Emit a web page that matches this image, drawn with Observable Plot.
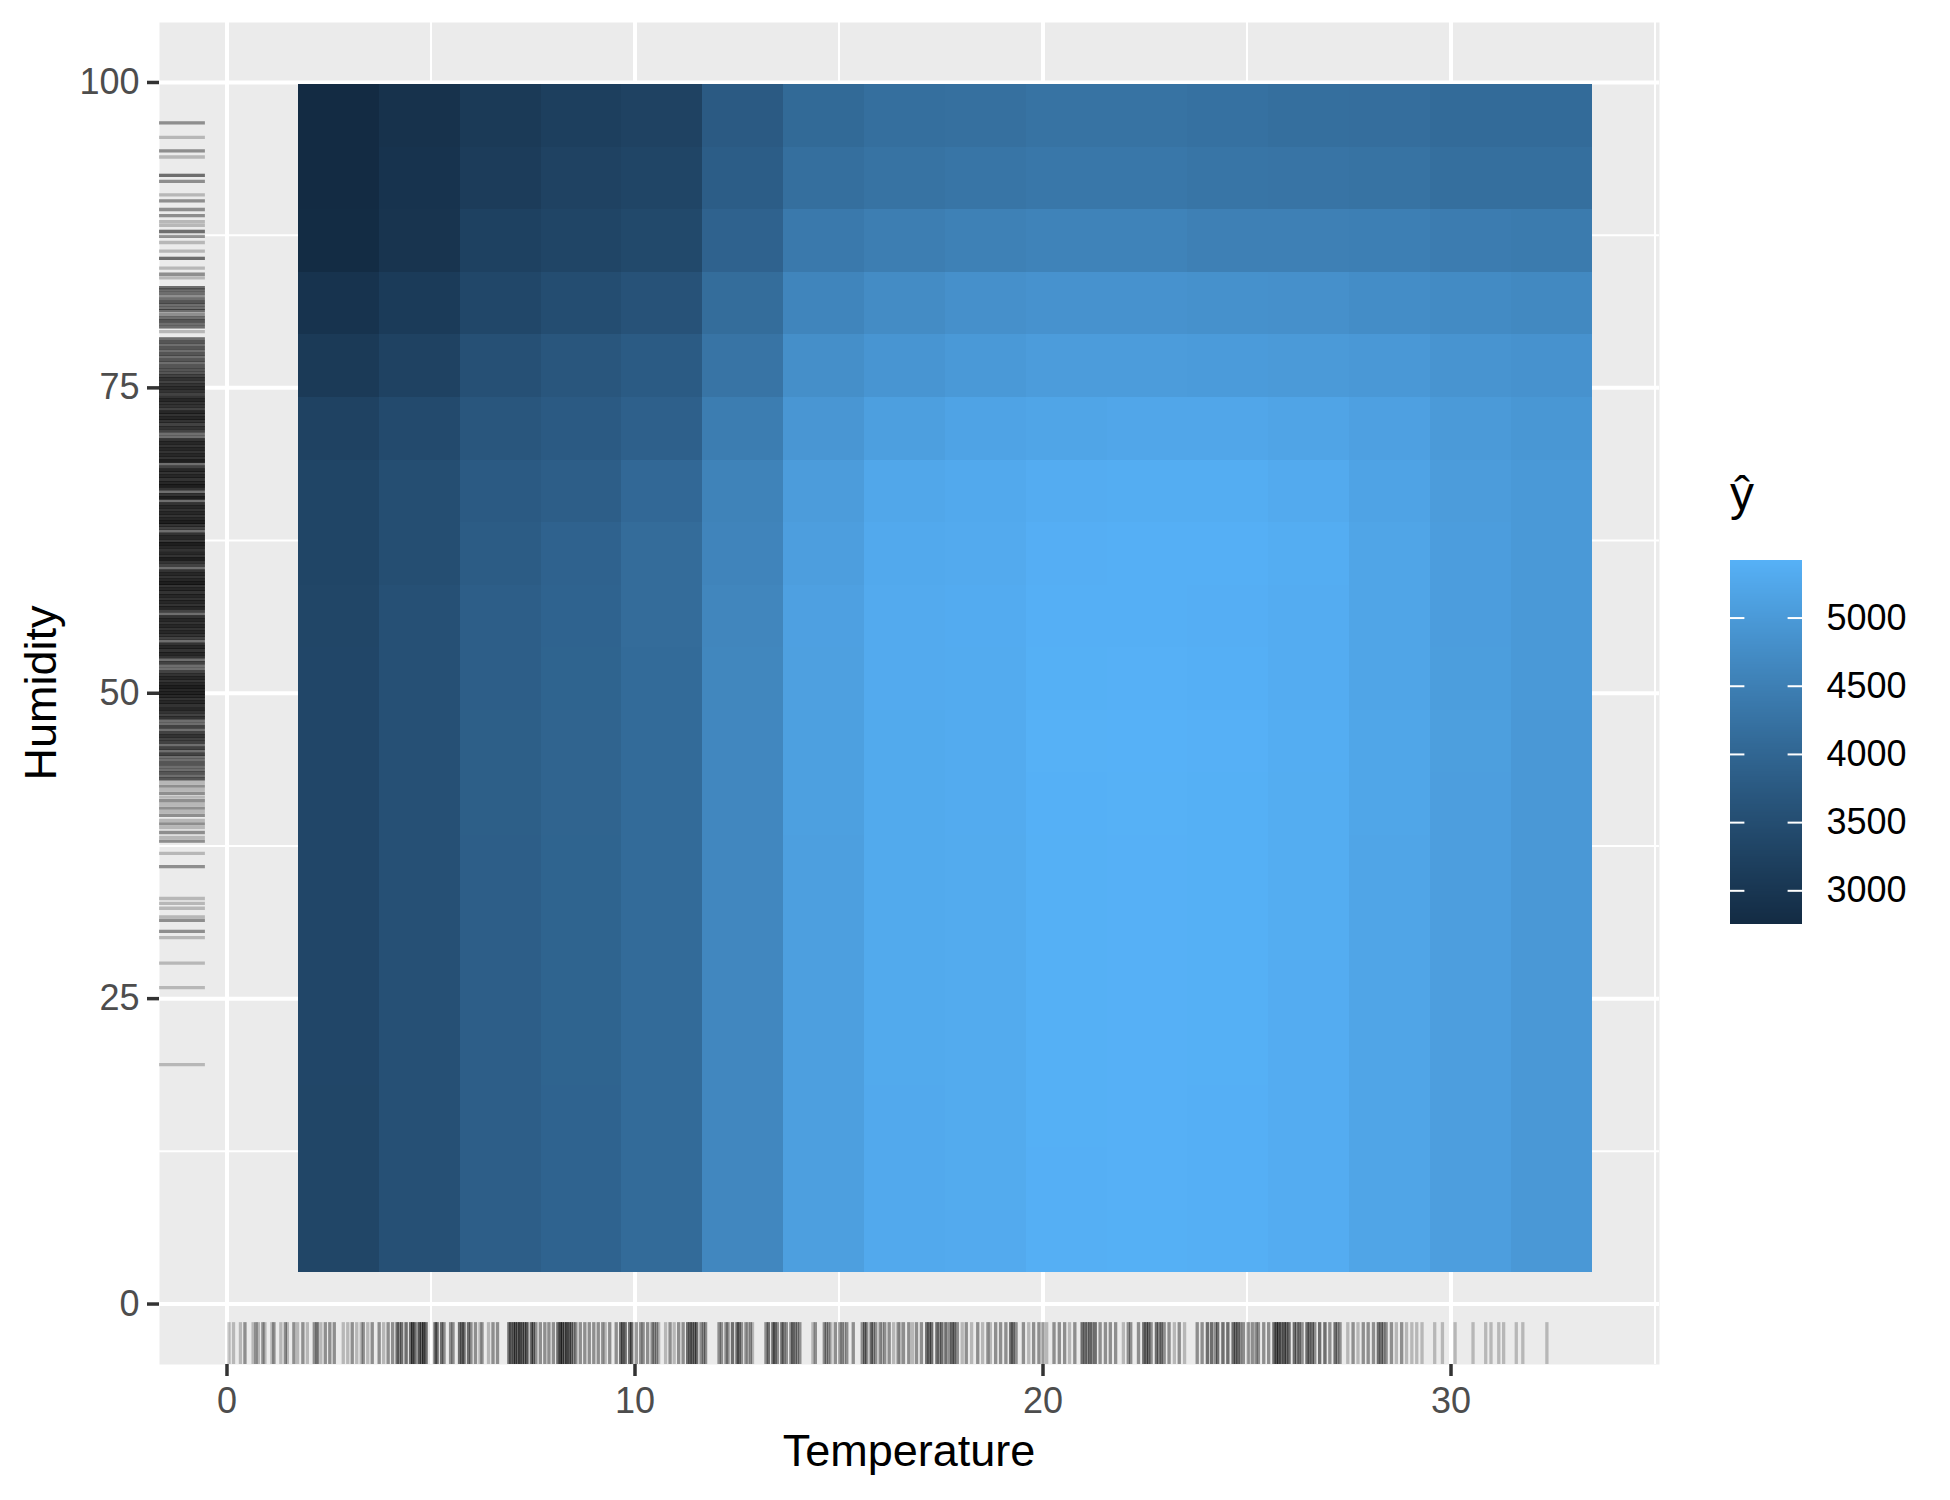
<!DOCTYPE html>
<html><head><meta charset="utf-8">
<script src="https://cdn.jsdelivr.net/npm/d3@7"></script>
<script src="https://cdn.jsdelivr.net/npm/@observablehq/plot@0.6"></script>
<style>
html,body{margin:0;padding:0;background:#fff;}
#wrap{position:relative;width:1950px;height:1500px;font-family:"Liberation Sans",Arial,Helvetica,sans-serif;overflow:hidden;}
.lbl{position:absolute;color:#000;white-space:nowrap;line-height:1;}
</style></head><body><div id="wrap"></div>
<script>
// grid centres of the partial dependence tiles
const tempGrid = [2.75, 4.73, 6.71, 8.69, 10.67, 12.66, 14.64, 16.62, 18.60, 20.58, 22.56, 24.54, 26.52, 28.51, 30.49, 32.47];
const humGrid = [5.12, 10.24, 15.35, 20.47, 25.59, 30.71, 35.83, 40.94, 46.06, 51.18, 56.30, 61.42, 66.53, 71.65, 76.77, 81.89, 87.01, 92.13, 97.25];
// predicted value y-hat, one row per humidity grid value (bottom to top), one entry per temperature
const yhat = [
  [3348, 3562, 3852, 3954, 4096, 4645, 5099, 5284, 5302, 5385, 5400, 5385, 5335, 5210, 5080, 4969],
  [3348, 3562, 3852, 3954, 4096, 4645, 5099, 5284, 5305, 5390, 5405, 5390, 5339, 5210, 5080, 4969],
  [3348, 3562, 3852, 3954, 4096, 4645, 5099, 5284, 5305, 5400, 5405, 5393, 5339, 5210, 5080, 4969],
  [3350, 3565, 3855, 3956, 4098, 4648, 5102, 5288, 5306, 5395, 5410, 5395, 5340, 5212, 5082, 4970],
  [3350, 3565, 3855, 3956, 4098, 4648, 5102, 5288, 5306, 5395, 5410, 5395, 5340, 5212, 5082, 4970],
  [3350, 3565, 3855, 3956, 4098, 4648, 5102, 5288, 5306, 5398, 5412, 5398, 5342, 5212, 5082, 4970],
  [3350, 3565, 3855, 3956, 4098, 4648, 5102, 5288, 5306, 5398, 5412, 5398, 5342, 5212, 5082, 4970],
  [3352, 3566, 3856, 3958, 4100, 4650, 5104, 5290, 5310, 5402, 5415, 5400, 5345, 5214, 5084, 4972],
  [3352, 3566, 3856, 3958, 4100, 4650, 5104, 5292, 5315, 5415, 5422, 5408, 5348, 5215, 5085, 4972],
  [3350, 3565, 3855, 3956, 4110, 4640, 5110, 5295, 5312, 5400, 5410, 5390, 5340, 5212, 5070, 4980],
  [3348, 3562, 3852, 3954, 4116, 4626, 5117, 5302, 5321, 5393, 5393, 5375, 5339, 5210, 5062, 4987],
  [3327, 3519, 3811, 3934, 4116, 4587, 5080, 5284, 5302, 5375, 5393, 5393, 5357, 5210, 5062, 4987],
  [3327, 3519, 3770, 3852, 4055, 4568, 5043, 5247, 5284, 5339, 5357, 5357, 5302, 5173, 5043, 4987],
  [3262, 3434, 3687, 3770, 3893, 4451, 4931, 5099, 5173, 5210, 5228, 5228, 5191, 5117, 5006, 4950],
  [3087, 3262, 3562, 3687, 3790, 4275, 4798, 4912, 4987, 5043, 5043, 5024, 5006, 4969, 4893, 4855],
  [2931, 3110, 3369, 3498, 3604, 4136, 4606, 4741, 4817, 4855, 4855, 4836, 4817, 4760, 4722, 4683],
  [2770, 2954, 3240, 3327, 3412, 3934, 4373, 4470, 4529, 4568, 4568, 4509, 4509, 4490, 4431, 4412],
  [2760, 2931, 3132, 3262, 3327, 3832, 4176, 4255, 4294, 4334, 4334, 4294, 4275, 4255, 4176, 4176],
  [2753, 2909, 3087, 3197, 3262, 3770, 4076, 4176, 4196, 4255, 4255, 4215, 4176, 4156, 4096, 4096]
];
// rug: observed temperatures [value, number of days]
const rugTemperature = [
  [0.05,1],[0.16,1],[0.33,1],[0.44,2],[0.64,1],[0.71,2],[0.77,1],[0.88,2],[0.93,1],[1.10,1],[1.15,2],[1.32,1],[1.43,2],[1.48,1],[1.64,2],[1.73,1],[1.86,2],[1.97,1],[2.14,2],[2.21,3],[2.30,1],[2.41,2],[2.52,2],[2.63,2],[2.85,1],[2.96,1],[3.07,2],[3.18,1],[3.29,1],[3.34,2],[3.45,1],[3.56,2],[3.73,2],[3.84,1],[3.95,2],[4.06,2],[4.17,3],[4.22,2],[4.28,3],[4.39,3],[4.50,3],[4.55,4],[4.61,3],[4.71,4],[4.77,3],[4.82,4],[4.88,3],[5.10,3],[5.15,3],[5.26,3],[5.32,2],[5.48,2],[5.54,2],[5.70,3],[5.76,3],[5.81,3],[5.92,3],[5.98,2],[6.09,2],[6.20,1],[6.25,2],[6.41,1],[6.52,2],[6.63,2],[6.91,3],[6.96,3],[7.02,3],[7.07,4],[7.13,3],[7.18,4],[7.24,3],[7.29,3],[7.35,4],[7.46,3],[7.51,3],[7.57,2],[7.68,2],[7.79,2],[7.89,2],[8.00,2],[8.11,3],[8.17,4],[8.22,4],[8.28,3],[8.33,4],[8.39,3],[8.44,3],[8.50,2],[8.55,2],[8.66,2],[8.77,2],[8.88,2],[8.99,2],[9.10,2],[9.21,2],[9.27,1],[9.38,2],[9.54,2],[9.65,3],[9.70,3],[9.76,3],[9.87,3],[9.92,3],[10.03,2],[10.14,2],[10.20,2],[10.31,2],[10.42,2],[10.47,2],[10.53,2],[10.58,1],[10.75,1],[10.86,2],[10.96,1],[11.07,2],[11.18,2],[11.29,3],[11.35,3],[11.40,3],[11.46,3],[11.51,3],[11.62,2],[11.68,2],[11.73,2],[12.06,2],[12.12,2],[12.23,2],[12.28,2],[12.39,3],[12.50,3],[12.55,3],[12.61,2],[12.72,2],[12.77,1],[12.83,2],[12.88,1],[13.21,2],[13.27,3],[13.38,3],[13.43,3],[13.49,2],[13.60,3],[13.65,2],[13.71,2],[13.82,2],[13.87,3],[13.93,2],[13.98,2],[14.04,2],[14.36,1],[14.42,2],[14.64,2],[14.69,2],[14.75,2],[14.80,1],[14.91,2],[15.02,2],[15.08,2],[15.13,1],[15.19,2],[15.35,2],[15.57,2],[15.63,3],[15.68,2],[15.79,3],[15.84,2],[15.90,2],[16.01,2],[16.06,1],[16.12,2],[16.23,2],[16.34,1],[16.45,2],
  [16.50,1],[16.58,2],[16.71,2],[16.80,1],[16.90,2],[17.02,2],[17.15,3],[17.21,3],[17.27,3],[17.40,3],[17.46,2],[17.52,3],[17.62,3],[17.71,2],[17.77,3],[17.83,3],[17.90,2],[18.02,1],[18.12,2],[18.25,1],[18.40,2],[18.52,1],[18.65,2],[18.71,1],[18.84,2],[18.96,2],[19.09,2],[19.21,3],[19.27,3],[19.34,2],[19.52,2],[19.65,1],[19.77,2],[19.90,2],[20.00,2],[20.09,1],[20.27,2],[20.40,2],[20.53,2],[20.65,1],[20.78,2],[20.96,3],[21.03,3],[21.09,2],[21.15,3],[21.21,2],[21.28,3],[21.40,2],[21.53,2],[21.65,2],[21.78,2],[21.97,1],[22.09,2],[22.15,2],[22.34,2],[22.47,3],[22.53,3],[22.59,3],[22.65,2],[22.78,3],[22.84,2],[22.90,3],[22.97,2],[23.09,2],[23.22,1],[23.34,2],[23.47,1],[23.78,2],[23.90,2],[24.03,3],[24.13,3],[24.22,2],[24.28,3],[24.41,3],[24.53,3],[24.66,3],[24.72,3],[24.78,3],[24.84,2],[24.91,2],[25.03,2],[25.13,2],[25.22,2],[25.28,2],[25.41,2],[25.53,2],[25.66,3],[25.72,4],[25.78,4],[25.84,3],[25.91,4],[25.97,3],[26.03,3],[26.16,3],[26.22,2],[26.28,3],[26.35,2],[26.47,3],[26.53,3],[26.60,3],[26.66,2],[26.78,3],[26.91,3],[27.03,2],[27.16,3],[27.22,2],[27.28,2],[27.47,1],[27.60,2],[27.72,1],[27.85,2],[27.97,2],[28.10,2],[28.22,3],[28.29,3],[28.35,2],[28.41,2],[28.54,2],[28.66,1],[28.79,2],[28.91,1],[29.04,1],[29.16,1],[29.29,1],[29.60,1],[29.79,1],[30.10,1],[30.54,1],[30.85,1],[30.98,1],[31.17,1],[31.29,1],[31.60,1],[31.76,1],[32.35,1]
];
// rug: observed humidity [value, number of days]
const rugHumidity = [
  [96.7,2],[95.5,1],[94.4,2],[93.9,1],[92.4,3],[91.9,2],[90.8,1],[90.3,2],[89.6,2],[89.1,2],[88.6,1],[88.3,1],[87.8,3],[87.4,2],[86.9,1],[86.2,1],[85.6,3],[84.8,1],[84.3,2],[84.0,1],
  [83.2,3],[83.0,3],[82.75,3],[82.5,2],[82.25,3],[82.0,4],[81.75,3],[81.5,3],[81.3,3],[81.0,2],[80.75,3],[80.5,4],[80.25,3],[80.0,3],[79.6,1],
  [79.0,3],[78.75,4],[78.5,3],[78.25,4],[78.0,3],[77.75,4],[77.5,3],[77.25,4],[77.0,3],[76.75,4],[76.5,4],[76.25,4],
  [76.0,5],[75.75,6],[75.5,5],[75.25,6],[75.0,7],[74.75,6],[74.5,5],[74.25,6],[74.0,7],[73.75,6],[73.5,6],[73.25,5],[73.0,7],[72.75,6],[72.5,7],[72.25,6],[72.0,5],[71.75,6],[71.5,5],[71.25,3],[71.0,3],[70.75,6],[70.5,7],[70.25,6],[70.0,7],
  [69.75,6],[69.5,7],[69.25,6],[69.0,8],[68.75,3],[68.5,5],[68.25,7],[68.0,6],[67.75,7],[67.5,6],[67.25,7],[67.0,8],[66.75,6],[66.5,3],[66.25,6],[66.0,8],[65.75,3],[65.5,6],[65.25,7],[65.0,6],[64.75,7],[64.5,6],[64.25,7],[64.0,8],[63.75,6],[63.5,5],[63.25,3],[63.0,6],[62.75,7],[62.5,6],[62.25,8],[62.0,7],[61.75,6],[61.5,7],[61.25,6],[61.0,8],[60.75,6],[60.5,5],[60.25,3],[60.0,6],
  [59.75,7],[59.5,6],[59.25,7],[59.0,8],[58.75,6],[58.5,7],[58.25,6],[58.0,7],[57.75,6],[57.5,7],[57.25,6],[57.0,7],[56.75,5],[56.5,3],[56.25,6],[56.0,7],[55.75,6],[55.5,7],[55.25,6],[55.0,7],[54.75,6],[54.5,5],[54.25,3],[54.0,6],[53.75,7],[53.5,6],[53.25,7],[53.0,6],[52.75,3],[52.5,5],[52.25,3],[52.0,3],[51.75,5],[51.5,6],[51.25,7],[51.0,6],[50.75,7],[50.5,8],[50.25,7],[50.0,8],
  [49.75,7],[49.5,6],[49.25,7],[49.0,6],[48.75,7],[48.5,6],[48.25,5],[48.0,6],[47.75,3],[47.5,3],[47.25,5],[47.0,3],[46.75,5],[46.5,6],[46.25,5],[46.0,5],[45.75,3],[45.5,5],[45.25,3],[45.0,5],[44.75,3],[44.5,3],[44.25,4],[44.0,3],[43.75,3],[43.5,4],[43.25,3],[43.0,4],
  [42.7,1],[42.4,2],[42.1,1],[41.8,2],[41.5,1],[41.2,2],[40.9,1],[40.6,2],[40.3,1],[40.0,2],[39.6,1],[39.3,2],[39.0,1],[38.6,2],[38.2,1],[37.9,2],
  [36.9,1],[35.8,2],[33.2,1],[32.8,1],[32.4,1],[31.7,1],[31.4,2],[30.5,2],[30.0,1],[27.9,1],[25.9,1],[19.6,1]
];
const xTicks = [0, 10, 20, 30];
const xMinor = [5, 15, 25, 35];
const yTicks = [0, 25, 50, 75, 100];
const yMinor = [12.5, 37.5, 62.5, 87.5];
const legendTicks = [3000, 3500, 4000, 4500, 5000];

const FONT = '"Liberation Sans", Arial, Helvetica, sans-serif';
const xDomain = [-1.654, 35.110];
const yDomain = [-4.95, 104.91];

// tile edges: midway between neighbouring grid centres (no gaps)
function edges(c) {
  const n = c.length;
  return c.map((v, i) => [
    i === 0 ? v - (c[1] - c[0]) / 2 : (c[i - 1] + v) / 2,
    i === n - 1 ? v + (c[n - 1] - c[n - 2]) / 2 : (v + c[i + 1]) / 2
  ]);
}
const tEdges = edges(tempGrid);
const hEdges = edges(humGrid);
const cells = [];
humGrid.forEach((h, i) => tempGrid.forEach((t, j) => cells.push({
  x1: tEdges[j][0], x2: tEdges[j][1], y1: hEdges[i][0], y2: hEdges[i][1], v: yhat[i][j]
})));
const flatVals = yhat.flat();
const vmin = d3.min(flatVals), vmax = d3.max(flatVals);
const colorScale = {type: "linear", domain: [vmin, vmax], range: ["#132B43", "#56B1F7"], interpolate: d3.interpolateLab};

const rugT = rugTemperature.flatMap(([t, n]) => Array(n).fill(t));
const rugH = rugHumidity.flatMap(([h, n]) => Array(n).fill(h));
const rugLenY = 0.03 * (yDomain[1] - yDomain[0]) * 1.04;
const rugLenX = 0.03 * (xDomain[1] - xDomain[0]) * 1.02;

const main = Plot.plot({
  width: 1950, height: 1500,
  marginLeft: 159, marginRight: 291, marginTop: 22, marginBottom: 136,
  x: {domain: xDomain},
  y: {domain: yDomain},
  color: colorScale,
  style: {fontFamily: FONT, background: "transparent", overflow: "visible"},
  marks: [
    Plot.frame({fill: "#EBEBEB", stroke: "none"}),
    Plot.ruleX(xMinor, {stroke: "white", strokeWidth: 2}),
    Plot.ruleY(yMinor, {stroke: "white", strokeWidth: 2}),
    Plot.ruleX(xTicks, {stroke: "white", strokeWidth: 4}),
    Plot.ruleY(yTicks, {stroke: "white", strokeWidth: 4}),
    Plot.rect(cells, {x1: "x1", x2: "x2", y1: "y1", y2: "y2", fill: "v", shapeRendering: "crispEdges"}),
    Plot.ruleX(rugT, {x: d => d, y1: yDomain[0], y2: yDomain[0] + rugLenY, stroke: "black", strokeOpacity: 0.22, strokeWidth: 3.3}),
    Plot.ruleY(rugH, {y: d => d, x1: xDomain[0], x2: xDomain[0] + rugLenX, stroke: "black", strokeOpacity: 0.22, strokeWidth: 3.3}),
    Plot.axisX(xTicks, {tickSize: 12, tickPadding: 11, fontSize: 36, color: "#4D4D4D", stroke: "#333333", strokeWidth: 3.5, label: null, tickFormat: d => String(d)}),
    Plot.axisY(yTicks, {tickSize: 12, tickPadding: 8, fontSize: 36, color: "#4D4D4D", stroke: "#333333", strokeWidth: 3.5, label: null, tickFormat: d => String(d)})
  ]
});
main.style.position = "absolute";
main.style.left = "0px";
main.style.top = "0px";

const steps = d3.range(300).map(i => vmin + (vmax - vmin) * i / 300);
const stepH = (vmax - vmin) / 300;
const legend = Plot.plot({
  width: 72 + 130, height: 364,
  marginLeft: 0, marginRight: 130, marginTop: 0, marginBottom: 0,
  x: {domain: [0, 1], axis: null},
  y: {domain: [vmin, vmax]},
  color: colorScale,
  style: {fontFamily: FONT, background: "transparent", overflow: "visible"},
  marks: [
    Plot.rect(steps, {x1: 0, x2: 1, y1: d => d, y2: d => d + stepH, fill: d => d + stepH / 2, shapeRendering: "crispEdges"}),
    Plot.ruleY(legendTicks, {x1: 0, x2: 0.2, stroke: "white", strokeWidth: 2}),
    Plot.ruleY(legendTicks, {x1: 0.8, x2: 1, stroke: "white", strokeWidth: 2}),
    Plot.axisY(legendTicks, {anchor: "right", tickSize: 0, tickPadding: 24, fontSize: 36, color: "black", label: null, tickFormat: d => String(d)})
  ]
});
legend.style.position = "absolute";
legend.style.left = "1730px";
legend.style.top = "560px";

const wrap = document.getElementById("wrap");
wrap.appendChild(main);
wrap.appendChild(legend);

function addLabel(text, css) {
  const d = document.createElement("div");
  d.className = "lbl";
  d.textContent = text;
  Object.assign(d.style, css);
  wrap.appendChild(d);
}
addLabel("Temperature", {left: "909px", top: "1428px", fontSize: "45px", transform: "translateX(-50%)"});
addLabel("Humidity", {left: "40px", top: "693px", fontSize: "45px", transform: "translate(-50%,-50%) rotate(-90deg)"});
addLabel("ŷ", {left: "1730px", top: "470px", fontSize: "48px"});
</script>
</body></html>
